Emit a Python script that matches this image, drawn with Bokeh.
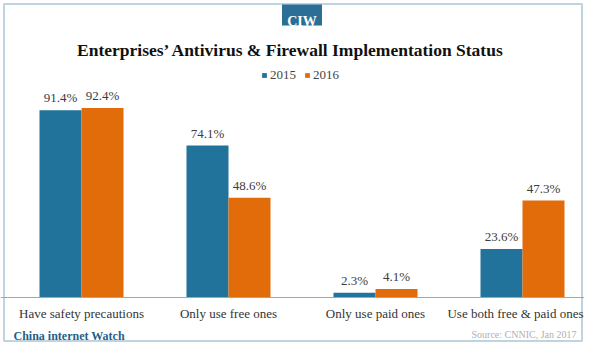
from bokeh.plotting import figure
from bokeh.models import (ColumnDataSource, Range1d, LabelSet, Label,
                          BoxAnnotation, Legend, LegendItem, Span)
from bokeh.core.properties import value
from bokeh.transform import dodge
from bokeh.embed import file_html
from bokeh.resources import INLINE

# ---- data ----
categories = ["Have safety precautions", "Only use free ones",
              "Only use paid ones", "Use both free & paid ones"]
years = ["2015", "2016"]
values_2015 = [91.4, 74.1, 2.3, 23.6]
values_2016 = [92.4, 48.6, 4.1, 47.3]
title_text = "Enterprises\u2019 Antivirus & Firewall Implementation Status"
badge_text = "CIW"
brand_text = "China internet Watch"
source_text = "Source: CNNIC, Jan 2017"

# ---- layout ----
W, H = 584, 343
def Yup(y_from_top):          # screen units are measured from the canvas bottom
    return H - y_from_top

BLUE = "#21739b"
ORANGE = "#e36c0a"
FRAME_BLUE = "#2b6f96"
SERIF = "Liberation Serif"

# value axis placement: 0 % at y=297 px, 100 % at y=92 px (from top)
base_px, top_px = 297.0, 92.0
ppu = (base_px - top_px) / 100.0
y_start = -(H - base_px) / ppu
y_end = 100 + top_px / ppu

# category axis: category i centred at 81 + 147*i px
unit_px = 147.0
x_start = -81.0 / unit_px
x_end = x_start + W / unit_px

label_dx = [0, 0, 0, -7]      # keep the last category label inside the canvas

idx = list(range(len(categories)))
src15 = ColumnDataSource(dict(pos=idx, cat=categories, val=values_2015,
                              lab=[f"{v}%" for v in values_2015]))
src16 = ColumnDataSource(dict(pos=idx, cat=categories, val=values_2016,
                              lab=[f"{v}%" for v in values_2016]))
srccat = ColumnDataSource(dict(pos=idx, cat=categories,
                               zero=[0] * len(categories), dx=label_dx))

p = figure(width=W, height=H, x_range=Range1d(x_start, x_end),
           y_range=Range1d(y_start, y_end), output_backend="svg",
           toolbar_location=None, x_axis_location=None, y_axis_location=None,
           min_border=0)
p.outline_line_color = None
p.xgrid.grid_line_color = None
p.ygrid.grid_line_color = None
p.background_fill_color = "white"
p.border_fill_color = "white"

# outer frame
p.add_layout(BoxAnnotation(left=3.5, right=W - 2.5, top=Yup(3.5), bottom=Yup(H - 2.5),
                           left_units="screen", right_units="screen",
                           top_units="screen", bottom_units="screen",
                           fill_alpha=0, line_color=FRAME_BLUE, line_width=2))

bw = 42.0 / unit_px
r15 = p.vbar(x=dodge("pos", -bw / 2), top="val", width=bw,
             source=src15, fill_color=BLUE, line_color=None)
r16 = p.vbar(x=dodge("pos", bw / 2), top="val", width=bw,
             source=src16, fill_color=ORANGE, line_color=None)

# category axis line and labels
p.add_layout(Span(location=0, dimension="width", line_color="#a6a6a6", line_width=1))
p.add_layout(LabelSet(x="pos", y="zero", text="cat", source=srccat, y_offset=-16,
                      x_offset="dx",
                      text_align="center", text_baseline="middle",
                      text_font=value(SERIF),
                      text_font_size="13px", text_color="#333333"))

for src, off in ((src15, -bw / 2), (src16, bw / 2)):
    p.add_layout(LabelSet(x=dodge("pos", off), y="val", text="lab",
                          source=src, y_offset=5, text_align="center",
                          text_baseline="bottom", text_font=value(SERIF),
                          text_font_size="13px", text_color="#3c3c3c"))

legend = Legend(items=[LegendItem(label=years[0], renderers=[r15]),
                       LegendItem(label=years[1], renderers=[r16])],
                orientation="horizontal", location=(261, Yup(83)),
                glyph_width=6, glyph_height=6, label_standoff=3, spacing=8,
                padding=0, margin=0, border_line_color=None,
                background_fill_alpha=0, label_text_font=SERIF,
                label_text_font_size="13px", label_text_color="#444444",
                label_height=12)
p.add_layout(legend)

# badge
p.add_layout(BoxAnnotation(left=281.5, right=321.5, top=Yup(4), bottom=Yup(25),
                           left_units="screen", right_units="screen",
                           top_units="screen", bottom_units="screen",
                           fill_color=FRAME_BLUE, fill_alpha=1, line_color=None,
                           level="overlay"))
p.add_layout(Label(x=301.5, y=Yup(20.5), x_units="screen", y_units="screen",
                   text=badge_text, text_align="center", text_baseline="alphabetic",
                   text_font=SERIF, text_font_style="bold", text_font_size="14px",
                   text_color="white", level="overlay"))
p.add_layout(Label(x=290.5, y=Yup(49.5), x_units="screen", y_units="screen",
                   text=title_text, text_align="center", text_baseline="alphabetic",
                   text_font=SERIF, text_font_style="bold", text_font_size="17.5px",
                   text_color="#111111"))
p.add_layout(Label(x=13, y=Yup(335), x_units="screen", y_units="screen",
                   text=brand_text, text_align="left", text_baseline="alphabetic",
                   text_font=SERIF, text_font_style="bold", text_font_size="12px",
                   text_color="#1f5f8b"))
p.add_layout(Label(x=W - 8, y=Yup(334), x_units="screen", y_units="screen",
                   text=source_text, text_align="right", text_baseline="alphabetic",
                   text_font=SERIF, text_font_size="10px",
                   text_color="#b0b0b0"))

open("out.html", "w").write(file_html(p, INLINE))
